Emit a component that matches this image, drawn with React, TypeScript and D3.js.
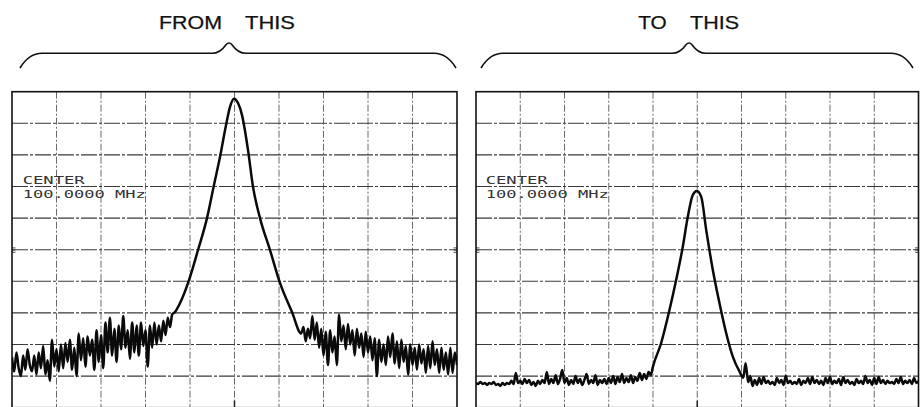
import React from "react";
import * as d3 from "d3";

// ---------- data ----------
// frequency in graticule divisions from centre (-5..5), level in dB below reference (0..-100)
const freqTicks = [-5, -4, -3, -2, -1, 0, 1, 2, 3, 4, 5];
const levelTicks = [0, -10, -20, -30, -40, -50, -60, -70, -80, -90, -100];
const traceStep = 0.05; // divisions between trace points

const centerLabel = "CENTER";
const centerFreqLabel = "100.0000 MHz";

// "FROM THIS" panel
const fromLowStart = -5;
const fromLowLevels = [
  -84, -88.5, -82.5, -87.5, -90, -83.5, -88, -81.5, -86.5, -88.5,
  -83.5, -89.5, -82.5, -87.5, -80.5, -89.5, -85, -91.5, -78.5, -87,
  -81.5, -88.5, -80, -87.5, -79.5, -85.5, -78.5, -88, -81, -90,
  -76.5, -85, -78, -87, -77.5, -83.5, -78.5, -88, -75.5, -85.5,
  -77, -87.5, -73, -82.5, -71.5, -83.5, -75, -85.5, -74, -81.5,
  -71, -81, -75.5, -84.5, -73, -82.5, -74, -83.5, -73, -80.5,
  -75.5, -87, -74, -81, -73, -80, -74, -79, -72.5, -77,
  -71.5, -74.5, -70.5,
];
const fromPeakFreq = [-1.337, -1.225, -1.022, -0.82, -0.618, -0.461, -0.326, -0.191, -0.101, -0.011, 0.079, 0.169, 0.303, 0.416, 0.573, 0.798, 1.022, 1.292];
const fromPeakLevel = [-69.7, -66.9, -59.6, -50.1, -40.0, -29.5, -20.7, -10.6, -4.8, -2.2, -3.6, -7.4, -18.4, -30.1, -40.0, -50.1, -60.5, -69.7];
const fromHighStart = 1.5;
const fromHighLevels = [
  -76.5, -74.5, -79, -75, -78, -71, -78.5, -73, -81, -75,
  -83.5, -76, -86.5, -75.5, -82.5, -77.5, -86.5, -70.5, -79, -74,
  -81.5, -73.5, -80, -75.5, -83.5, -75, -81, -76.5, -84, -76,
  -82.5, -77.5, -85, -78, -90, -78.5, -85.5, -80, -86.5, -77.5,
  -84, -76.5, -86, -79, -87.5, -78.5, -85.5, -80.5, -89.5, -80,
  -86.5, -81, -88, -80, -86, -81.5, -89, -80.5, -87.5, -79,
  -86.5, -81.5, -89, -81, -88, -82.5, -89.5, -81, -89, -82.5,
  -86.5,
];

// "TO THIS" panel
const toLowStart = -5;
const toLowLevels = [
  -92.2, -92.5, -91.9, -92.5, -92.2, -92.8, -92.2, -92.5, -91.9, -92.8,
  -92.5, -93.1, -92.2, -92.8, -92.2, -92.5, -91.5, -92.5, -89.0, -92.2,
  -91.5, -92.5, -90.9, -92.2, -91.2, -92.8, -91.9, -93.1, -91.5, -92.5,
  -91.2, -92.2, -88.7, -92.5, -90.9, -92.2, -89.7, -92.5, -90.9, -88.1,
  -92.2, -90.6, -92.8, -91.2, -92.5, -90.0, -92.2, -90.9, -92.8, -91.2,
  -89.3, -92.5, -91.2, -92.2, -89.7, -92.8, -91.2, -92.2, -90.9, -92.5,
  -90.6, -92.2, -90.0, -92.5, -90.3, -91.9, -89.3, -92.2, -90.6, -91.9,
  -89.7, -92.2, -90.3, -91.5, -89.0, -91.2, -89.3, -90.9, -88.7, -89.7,
];
const toPeakFreq = [-1.0, -0.817, -0.628, -0.477, -0.327, -0.214, -0.101, -0.01, 0.089, 0.203, 0.352, 0.504, 0.656, 0.805, 0.957, 1.04, 1.093];
const toPeakLevel = [-86.9, -79.6, -69.1, -59.6, -49.1, -39.6, -32.7, -31.4, -33.2, -43.8, -56.4, -67.0, -76.5, -83.9, -88.6, -90.5, -85.9];
const toHighStart = 1.15;
const toHighLevels = [
  -91.9, -90.0, -93.1, -91.2, -92.8, -90.6, -92.5, -90.3, -92.2, -91.5,
  -92.5, -91.9, -92.8, -90.6, -92.2, -91.2, -92.8, -90.0, -92.2, -91.5,
  -92.5, -91.9, -92.5, -90.9, -92.8, -91.5, -92.2, -90.6, -92.5, -90.3,
  -92.2, -91.2, -92.5, -91.5, -92.8, -90.6, -92.2, -90.3, -92.5, -91.5,
  -92.2, -90.9, -92.8, -90.3, -92.2, -91.2, -92.5, -91.9, -92.8, -90.9,
  -92.2, -91.5, -92.5, -90.0, -92.2, -91.2, -92.8, -90.6, -92.5, -90.3,
  -92.2, -91.2, -92.5, -91.5, -92.2, -91.9, -92.5, -90.9, -92.2, -90.3,
  -92.5, -91.5, -92.2, -91.2, -92.5, -90.6, -92.2, -91.5,
];

type Pt = { f: number; db: number };
function buildTrace(
  lowStart: number, low: number[],
  pf: number[], pl: number[],
  highStart: number, high: number[]
): Pt[] {
  const a = low.map((db, i) => ({ f: lowStart + i * traceStep, db }));
  const b = pf.map((f, i) => ({ f, db: pl[i] }));
  const c = high.map((db, i) => ({ f: highStart + i * traceStep, db }));
  return [...a, ...b, ...c];
}

const fromTrace = buildTrace(fromLowStart, fromLowLevels, fromPeakFreq, fromPeakLevel, fromHighStart, fromHighLevels);
const toTrace = buildTrace(toLowStart, toLowLevels, toPeakFreq, toPeakLevel, toHighStart, toHighLevels);

// ---------- layout ----------
const W = 920;
const H = 407;
const Y_TOP = 91.7;
const Y_BOT = 407.7;

const panels = [
  {
    id: "from",
    x0: 12,
    x1: 457,
    trace: fromTrace,
    brace: { a: 20, c: 229, b: 456 },
    words: [
      { t: "FROM", x: 159, len: 63 },
      { t: "THIS", x: 245, len: 50 },
    ],
    labelX: 22.7,
  },
  {
    id: "to",
    x0: 476,
    x1: 918.5,
    trace: toTrace,
    brace: { a: 481, c: 689, b: 913 },
    words: [
      { t: "TO", x: 638.3, len: 28.5 },
      { t: "THIS", x: 690, len: 49 },
    ],
    labelX: 485.7,
  },
];

function bracePath(a: number, c: number, b: number) {
  const p = d3.path();
  const yEnd = 68;
  const yFlat = 53.3;
  const yTip = 41.2;
  p.moveTo(a, yEnd);
  p.quadraticCurveTo(a + 9, yFlat, a + 22, yFlat);
  p.lineTo(c - 17, yFlat);
  p.quadraticCurveTo(c - 9, yFlat, c - 3, yTip + 3.5);
  p.quadraticCurveTo(c, yTip, c + 3, yTip + 3.5);
  p.quadraticCurveTo(c + 9, yFlat, c + 17, yFlat);
  p.lineTo(b - 22, yFlat);
  p.quadraticCurveTo(b - 9, yFlat, b, yEnd);
  return p.toString();
}

const yScale = d3.scaleLinear().domain([0, -100]).range([Y_TOP, Y_BOT]);

function Panel({ cfg }: { cfg: (typeof panels)[number] }) {
  const x = d3.scaleLinear().domain([-5, 5]).range([cfg.x0, cfg.x1]);
  const line = d3
    .line<Pt>()
    .x((d) => x(d.f))
    .y((d) => yScale(d.db))
    .curve(d3.curveMonotoneX);
  const clipId = `clip-${cfg.id}`;
  const refY = yScale(-50);
  const cx = x(0);
  return (
    <g>
      <defs>
        <clipPath id={clipId}>
          <rect x={cfg.x0} y={Y_TOP} width={cfg.x1 - cfg.x0} height={Y_BOT - Y_TOP} />
        </clipPath>
      </defs>
      {/* title words */}
      {cfg.words.map((w) => (
        <text
          key={w.t + w.x}
          x={w.x}
          y={28.5}
          fontFamily="'Liberation Sans', Arial, sans-serif"
          fontSize={19}
          fill="#111"
          stroke="#111"
          strokeWidth={0.25}
          textLength={w.len}
          lengthAdjust="spacingAndGlyphs"
        >
          {w.t}
        </text>
      ))}
      {/* brace */}
      <path d={bracePath(cfg.brace.a, cfg.brace.c, cfg.brace.b)} fill="none" stroke="#111" strokeWidth={1.6} strokeLinejoin="round" />
      {/* vertical graticule */}
      {freqTicks.slice(1, -1).map((f) => (
        <line
          key={"v" + f}
          x1={x(f)}
          x2={x(f)}
          y1={Y_TOP}
          y2={Y_BOT}
          stroke="#6a6a6a"
          strokeWidth={1}
          strokeDasharray="7 2 2 2"
        />
      ))}
      {/* horizontal graticule */}
      {levelTicks.slice(1, -1).map((l) => (
        <line
          key={"h" + l}
          x1={cfg.x0}
          x2={cfg.x1}
          y1={yScale(l)}
          y2={yScale(l)}
          stroke="#3a3a3a"
          strokeWidth={1.1}
          strokeDasharray="16 2 3 2"
        />
      ))}
      {/* reference level marks */}
      {[-1.8, 0.4, 2.6].map((dy) => (
        <g key={"r" + dy}>
          <line x1={cfg.x0} x2={cfg.x0 + 3.5} y1={refY + dy} y2={refY + dy} stroke="#222" strokeWidth={0.8} />
          <line x1={cfg.x1 - 3.5} x2={cfg.x1} y1={refY + dy} y2={refY + dy} stroke="#222" strokeWidth={0.8} />
        </g>
      ))}
      <line x1={cx} x2={cx} y1={Y_BOT - 7} y2={Y_BOT} stroke="#222" strokeWidth={1.5} />
      {/* border */}
      <rect x={cfg.x0} y={Y_TOP} width={cfg.x1 - cfg.x0} height={Y_BOT - Y_TOP} fill="none" stroke="#111" strokeWidth={1.6} />
      {/* annotation */}
      <text
        x={cfg.labelX}
        y={184.3}
        fontFamily="'DejaVu Sans Mono', monospace"
        fontSize={10.5}
        fill="#333"
        textLength={62}
        lengthAdjust="spacingAndGlyphs"
      >
        {centerLabel}
      </text>
      <text
        x={cfg.labelX}
        y={198.3}
        fontFamily="'DejaVu Sans Mono', monospace"
        fontSize={10.5}
        fill="#333"
        textLength={123}
        lengthAdjust="spacingAndGlyphs"
      >
        {centerFreqLabel}
      </text>
      {/* trace */}
      <path
        d={line(cfg.trace) || ""}
        fill="none"
        stroke="#0a0a0a"
        strokeWidth={2.5}
        strokeLinejoin="round"
        clipPath={`url(#${clipId})`}
      />
    </g>
  );
}

export default function App() {
  return (
    <svg
      width={W}
      height={H}
      viewBox={`0 0 ${W} ${H}`}
      style={{ position: "absolute", left: 0, top: 0, background: "#fff" }}
    >
      <rect x={0} y={0} width={W} height={H} fill="#fff" />
      {panels.map((p) => (
        <Panel key={p.id} cfg={p} />
      ))}
    </svg>
  );
}
